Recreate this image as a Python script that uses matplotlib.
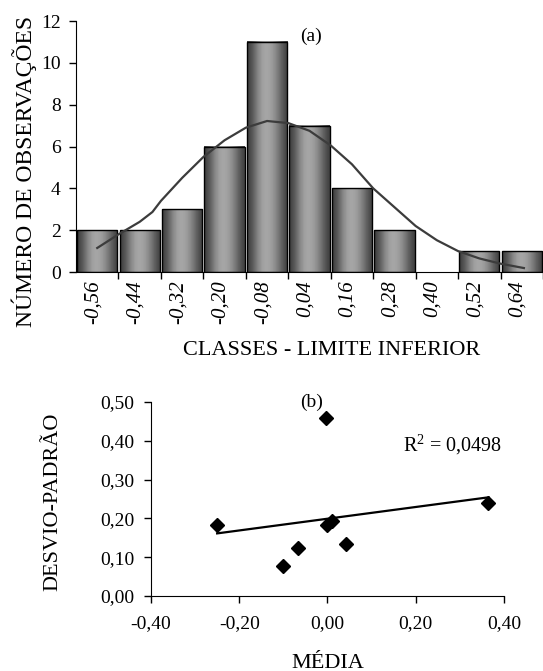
import numpy as np
import matplotlib
matplotlib.use('Agg')
import matplotlib.pyplot as plt
from matplotlib.patches import Rectangle

plt.rcParams['font.family'] = ['Liberation Serif', 'DejaVu Serif']
plt.rcParams['font.size'] = 14
plt.rcParams['mathtext.fontset'] = 'custom'
plt.rcParams['mathtext.rm'] = 'Liberation Serif'

# (a) histogram
class_labels = ['-0,56', '-0,44', '-0,32', '-0,20', '-0,08', '0,04',
                '0,16', '0,28', '0,40', '0,52', '0,64']
counts = [2, 2, 3, 6, 11, 7, 4, 2, 0, 1, 1]
# normal curve (x in class units)
curve_x = [0.5, 1.0, 1.5, 1.8, 2.0, 2.5, 3.0, 3.5, 4.0, 4.5, 5.0, 5.5,
           6.0, 6.5, 7.0, 7.5, 8.0, 8.5, 9.0, 9.5, 10.0, 10.55]
curve_y = [1.15, 1.8, 2.4, 2.87, 3.4, 4.5, 5.5, 6.3, 6.9, 7.22, 7.12, 6.75,
           6.05, 5.15, 4.0, 3.1, 2.2, 1.52, 1.0, 0.65, 0.4, 0.19]

# (b) scatter
media = [-0.25, -0.10, -0.066, -0.004, -0.002, 0.01, 0.041, 0.365]
desvio = [0.183, 0.077, 0.124, 0.458, 0.183, 0.194, 0.134, 0.239]
r2_text = r'R$^\mathrm{2}$ = 0,0498'

fig = plt.figure(figsize=(5.43, 6.71), dpi=100)

ax1 = fig.add_axes([0.14, 0.5946, 0.86, 0.3741])
shade = np.array([[0.26, 0.34, 0.45, 0.55, 0.62, 0.65, 0.64, 0.60, 0.53,
                   0.44, 0.35, 0.27]])
for i, c in enumerate(counts):
    if c == 0:
        continue
    x0, x1 = i + 0.025, i + 0.975
    ax1.imshow(shade, extent=(x0, x1, 0, c), aspect='auto', cmap='gray',
               vmin=0, vmax=1, interpolation='bilinear', zorder=2)
    ax1.add_patch(Rectangle((x0, 0), x1 - x0, c, fill=False, ec='black',
                            lw=1.0, zorder=3))
ax1.plot(curve_x, curve_y, color='#3c3c3c', lw=1.6, zorder=4)
ax1.set_xlim(0, 11)
ax1.set_ylim(0, 12)
ax1.set_yticks(range(0, 13, 2))
ax1.set_xticks(range(1, 12))
ax1.set_xticklabels([])
xtr = ax1.get_xaxis_transform()
for i, lab in enumerate(class_labels):
    ax1.text(i + 0.4, -0.032, lab, rotation=90, rotation_mode='anchor',
             ha='right', va='center', style='italic', fontsize=15,
             transform=xtr)
ax1.spines['top'].set_visible(False)
ax1.spines['right'].set_visible(False)
ax1.tick_params(axis='both', direction='out', length=5, width=1)
ax1.tick_params(axis='y', pad=6)
ax1.set_ylabel('NÚMERO DE OBSERVAÇÕES', fontsize=17)
ax1.yaxis.set_label_coords(-0.083, 0.40)
fig.text(0.611, 0.478, 'CLASSES - LIMITE INFERIOR', ha='center', va='center',
         fontsize=16)
ax1.text(5.54, 11.25, '(a)', ha='center', va='center', fontsize=14)

ax2 = fig.add_axes([0.278, 0.1118, 0.65, 0.2891])
ax2.plot(media, desvio, 'D', color='black', markersize=7, zorder=3)
slope, inter = np.polyfit(media, desvio, 1)
xs = np.array([min(media), max(media)])
ax2.plot(xs, slope * xs + inter, color='black', lw=1.6, zorder=2)
ax2.set_xlim(-0.4, 0.4)
ax2.set_ylim(0, 0.5)
ax2.set_xticks([-0.4, -0.2, 0.0, 0.2, 0.4])
ax2.set_xticklabels(['-0,40', '-0,20', '0,00', '0,20', '0,40'])
ax2.set_yticks([0, 0.1, 0.2, 0.3, 0.4, 0.5])
ax2.set_yticklabels(['0,00', '0,10', '0,20', '0,30', '0,40', '0,50'])
ax2.spines['top'].set_visible(False)
ax2.spines['right'].set_visible(False)
ax2.tick_params(axis='both', direction='out', length=5, width=1)
ax2.tick_params(axis='y', pad=7)
ax2.tick_params(axis='x', pad=9)
ax2.set_ylabel('DESVIO-PADRÃO', fontsize=16)
ax2.yaxis.set_label_coords(-0.252, 0.485)
fig.text(328 / 543, 1 - 663 / 671, 'MÉDIA', ha='center', va='center',
         fontsize=16)
ax2.text(-0.037, 0.499, '(b)', ha='center', va='center', fontsize=14)
ax2.text(0.171, 0.389, r2_text, ha='left', va='center', fontsize=14.5)

fig.savefig('out.png', dpi=100)
